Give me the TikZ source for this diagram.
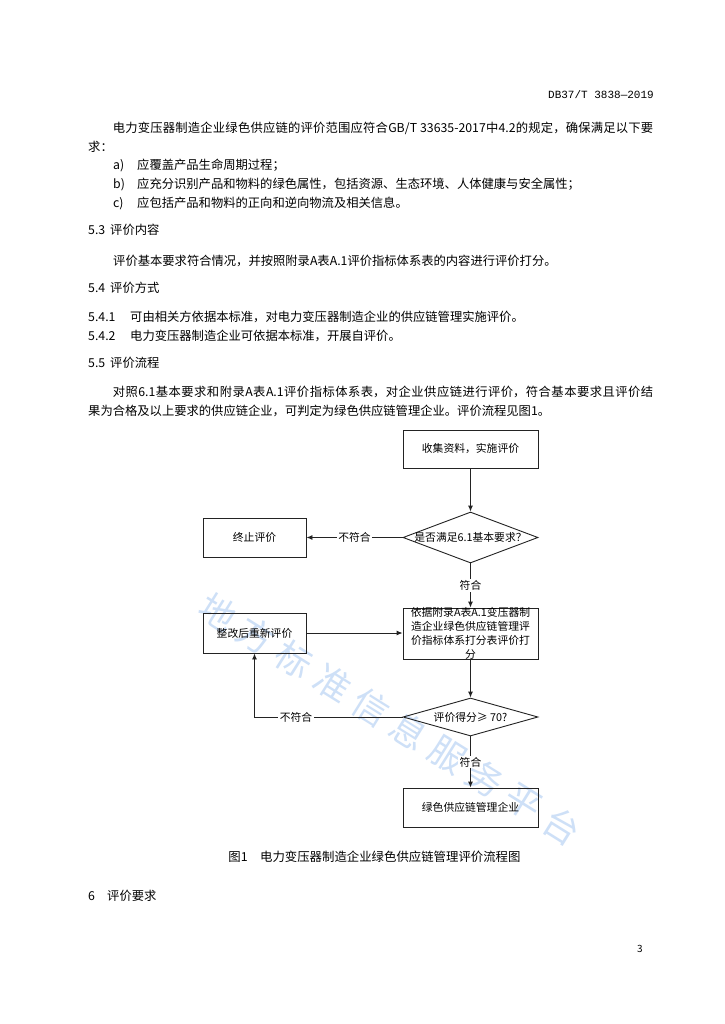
\documentclass[tikz,border=0pt]{standalone}
\usepackage{fontspec}
\setmainfont{Noto Sans CJK SC}
\newfontfamily\hdrfont{Liberation Mono}
\usetikzlibrary{shapes.geometric,arrows.meta}
\XeTeXlinebreaklocale "zh"
\XeTeXlinebreakskip=0pt plus 1.5pt
\definecolor{wmblue}{RGB}{206,224,247}
\definecolor{linegray}{RGB}{35,35,35}
\tikzset{
  box/.style={draw=linegray,line width=0.9pt,minimum width=135pt,minimum height=38pt,inner sep=0pt},
  dia/.style={draw=linegray,line width=0.9pt,shape=diamond,minimum width=135pt,minimum height=51pt,inner sep=0pt},
  flow/.style={font=\fontsize{10.8}{14}\selectfont,inner sep=0pt},
  lbl/.style={flow,fill=white,inner sep=1.5pt},
  arr/.style={line width=0.9pt,draw=linegray,-{Latex[length=6pt,width=5pt]}},
  body/.style={font=\fontsize{12.3}{19}\selectfont,inner sep=0pt}
}
\begin{document}
\begin{tikzpicture}[x=1pt,y=-1pt]
\useasboundingbox[fill=white] (0,0) rectangle (724,1024);

% watermark
\foreach \c [count=\i from 0] in {地,方,标,准,信,息,服,务,平,台}
  \node[text=wmblue,font=\fontsize{36}{36}\selectfont,rotate=-32] (wm\i) at (218+38.2*\i,612+23.8*\i) {\c};

% page text
\node[anchor=base east,font=\hdrfont\fontsize{11}{13}\selectfont,inner sep=0pt] (hdr) at (654,99) {DB37/T 3838—2019};
\node[body,anchor=north west,text width=565pt,align=justify] (p1) at (88,121.5)
  {\hspace*{2em}电力变压器制造企业绿色供应链的评价范围应符合GB/T 33635-2017中4.2的规定，确保满足以下要\linebreak 求：};
\node[body,anchor=base west] (ia) at (113,170) {a)};
\node[body,anchor=base west] (ta) at (137,170) {应覆盖产品生命周期过程；};
\node[body,anchor=base west] (ib) at (113,189) {b)};
\node[body,anchor=base west] (tb) at (137,189) {应充分识别产品和物料的绿色属性，包括资源、生态环境、人体健康与安全属性；};
\node[body,anchor=base west] (ic) at (113,208) {c)};
\node[body,anchor=base west] (tc) at (137,208) {应包括产品和物料的正向和逆向物流及相关信息。};

\node[body,anchor=base west] (n53) at (88,235) {5.3};
\node[body,anchor=base west] (h53) at (110,235) {评价内容};
\node[body,anchor=base west] (p53) at (113,265) {评价基本要求符合情况，并按照附录A表A.1评价指标体系表的内容进行评价打分。};
\node[body,anchor=base west] (n54) at (88,292) {5.4};
\node[body,anchor=base west] (h54) at (110,292) {评价方式};
\node[body,anchor=base west] (n541) at (88,321) {5.4.1};
\node[body,anchor=base west] (p541) at (130,321) {可由相关方依据本标准，对电力变压器制造企业的供应链管理实施评价。};
\node[body,anchor=base west] (n542) at (88,340) {5.4.2};
\node[body,anchor=base west] (p542) at (130,340) {电力变压器制造企业可依据本标准，开展自评价。};
\node[body,anchor=base west] (n55) at (88,367) {5.5};
\node[body,anchor=base west] (h55) at (110,367) {评价流程};
\node[body,anchor=north west,text width=565pt,align=justify] (p55) at (88,385.5)
  {\hspace*{2em}对照6.1基本要求和附录A表A.1评价指标体系表，对企业供应链进行评价，符合基本要求且评价结\linebreak 果为合格及以上要求的供应链企业，可判定为绿色供应链管理企业。评价流程见图1。};

% flow chart
\node[box] (start) at (470.5,449) {};
\node[flow] (starttxt) at (start) {收集资料，实施评价};
\node[dia] (check) at (470.5,537.5) {};
\node[flow] (checktxt) at (check) {是否满足6.1基本要求？};
\node[box,minimum width=103pt,minimum height=39pt] (stop) at (254.5,537.5) {};
\node[flow] (stoptxt) at (stop) {终止评价};
\node[box,minimum height=51pt] (score) at (470.5,633.5) {};
\node[flow,align=center] (scoretxt) at (score) {依据附录A表A.1变压器制\\造企业绿色供应链管理评\\价指标体系打分表评价打\\分};
\node[box,minimum width=103pt,minimum height=40pt] (redo) at (254.5,633) {};
\node[flow] (redotxt) at (redo) {整改后重新评价};
\node[dia,minimum height=38pt] (pass) at (470.5,717) {};
\node[flow] (passtxt) at (pass) {评价得分≥ 70?};
\node[box,minimum height=39pt] (green) at (470.5,807.5) {};
\node[flow] (greentxt) at (green) {绿色供应链管理企业};

\draw[arr] (start) -- (check);
\draw[arr] (check) -- node[lbl]{不符合} (stop);
\draw[arr] (check) -- node[lbl]{符合} (score);
\draw[arr] (redo.east) -- (redo.east -| score.west);
\draw[arr] (score) -- (pass);
\draw[arr] (pass.west) -- node[lbl,pos=0.72]{不符合} (redo.south |- pass.west) -- (redo.south);
\draw[arr] (pass) -- node[lbl]{符合} (green);

\node[anchor=base,font=\fontsize{12.4}{15}\selectfont,inner sep=0pt] (cap) at (374.5,861.5) {图1\hspace{1em}电力变压器制造企业绿色供应链管理评价流程图};
\node[body,anchor=base west] (n6) at (88,900) {6};
\node[body,anchor=base west] (h6) at (107,900) {评价要求};
\node[anchor=base,font=\fontsize{10}{12}\selectfont,inner sep=0pt] (pg) at (640,952) {3};
\end{tikzpicture}
\end{document}
